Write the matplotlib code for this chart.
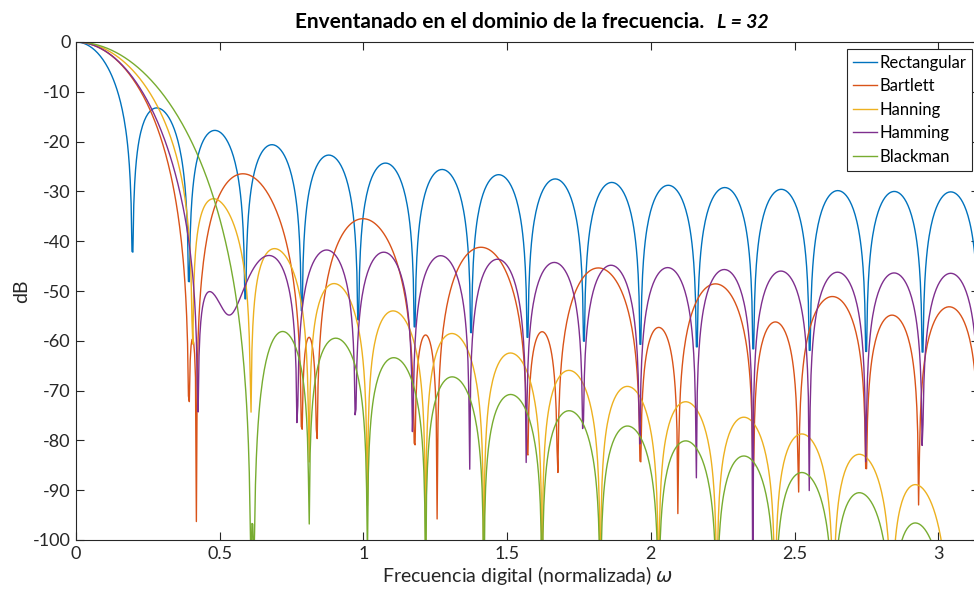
import numpy as np
import matplotlib
matplotlib.use("Agg")
import matplotlib.pyplot as plt

# window settings
L = 32
nombres = ["Rectangular", "Bartlett", "Hanning", "Hamming", "Blackman"]
ventanas = [np.ones(L), np.bartlett(L), np.hanning(L), np.hamming(L), np.blackman(L)]
colores = ["#0072BD", "#D95319", "#EDB120", "#7E2F8E", "#77AC30"]
xticks = [0, 0.5, 1, 1.5, 2, 2.5, 3]
yticks = [0, -10, -20, -30, -40, -50, -60, -70, -80, -90, -100]

# frequency grid (midpoints of 1024 bins on [0, pi])
M = 1024
w = (np.arange(M) + 0.5) * np.pi / M
n = np.arange(L)
E = np.exp(-1j * np.outer(w, n))

plt.rcParams['font.family'] = ['Lato', 'DejaVu Sans']
plt.rcParams['axes.unicode_minus'] = False
fig = plt.figure(figsize=(9.74, 5.92), dpi=100)
W, H = 974, 592
ax = fig.add_axes([76 / W, (H - 540) / H, 903 / W, 498 / H])

for v, nom, c in zip(ventanas, nombres, colores):
    Hw = np.abs(E @ v) / np.sum(v)
    dB = 20 * np.log10(np.maximum(Hw, 1e-15))
    ax.plot(w, dB, color=c, lw=1.0, label=nom)

ax.set_xlim(0, np.pi)
ax.set_ylim(-100, 0)
ax.set_xticks(xticks)
ax.set_xticklabels([("%g" % t) for t in xticks])
ax.set_yticks(yticks)
ax.set_yticklabels([("%d" % t) for t in yticks])
ax.tick_params(direction='in', length=6, width=0.8, top=True, right=True,
               labelsize=13, colors='#262626', pad=4)
for s in ax.spines.values():
    s.set_color('#262626')
    s.set_linewidth(0.8)

ax.set_xlabel(r"Frecuencia digital (normalizada) $\omega$", fontsize=14, color='#262626', labelpad=2)
ax.set_ylabel("dB", fontsize=14, color='#262626', labelpad=2)

# title in two parts (second part bold italic)
fig.text(704 / W, 1 - 22 / H, "Enventanado en el dominio de la frecuencia.", ha='right', va='center',
         fontsize=15, fontweight='bold')
fig.text(717 / W, 1 - 22 / H, "L = 32", ha='left', va='center',
         fontsize=14, fontweight='bold', style='italic')

leg = ax.legend(loc='upper right', bbox_to_anchor=(972 / W, 1 - 49 / H), bbox_transform=fig.transFigure,
                fontsize=12, handlelength=1.45, handletextpad=0.15, borderpad=0.35, labelspacing=0.45,
                fancybox=False, framealpha=1, edgecolor='#262626', borderaxespad=0)
leg.get_frame().set_linewidth(0.8)

fig.savefig("out.png", dpi=100)
